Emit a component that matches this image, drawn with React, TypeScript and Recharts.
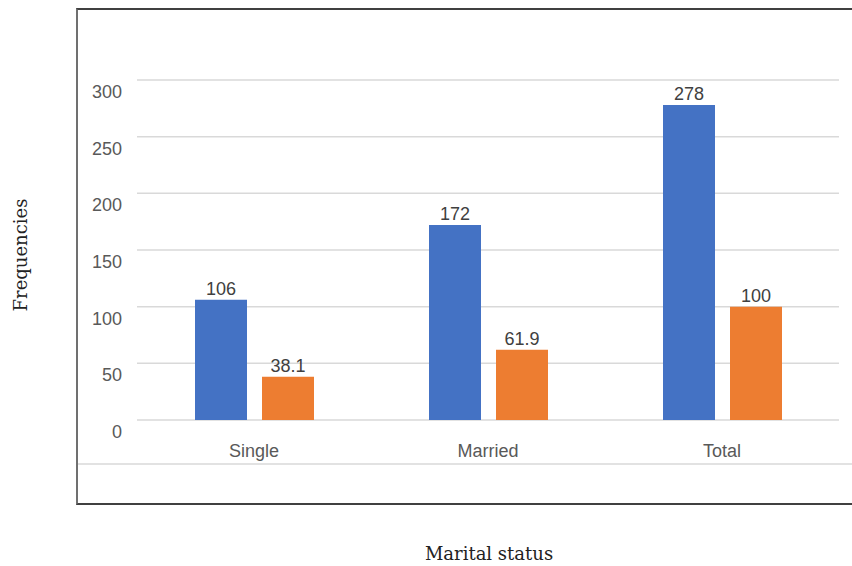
import { BarChart, Bar, XAxis, YAxis, CartesianGrid, LabelList } from 'recharts'

const categories = ['Single', 'Married', 'Total']
const frequencyCounts = [106, 172, 278]
const percentValues = [38.1, 61.9, 100]
const yTicks = [0, 50, 100, 150, 200, 250, 300]

const data = categories.map((name, i) => ({
  name,
  count: frequencyCounts[i],
  percent: percentValues[i],
}))

const SANS = '"Liberation Sans", Arial, sans-serif'
const SERIF = '"DejaVu Serif", serif'

function YTick({ x, y, payload }: any) {
  return (
    <text
      x={x - 13}
      y={y + 12}
      textAnchor="end"
      dominantBaseline="central"
      fontFamily={SANS}
      fontSize={18}
      fill="#595959"
    >
      {payload.value}
    </text>
  )
}

function XTick({ x, y, payload }: any) {
  return (
    <text
      x={x}
      y={y + 23}
      textAnchor="middle"
      dominantBaseline="central"
      fontFamily={SANS}
      fontSize={18}
      fill="#595959"
    >
      {payload.value}
    </text>
  )
}

export default function App() {
  return (
    <div style={{ position: 'fixed', left: 0, top: 0, width: 852, height: 566, background: '#fff' }}>
      {/* outer frame */}
      <div
        style={{
          position: 'absolute',
          left: 76,
          top: 8,
          width: 800,
          height: 493,
          borderLeft: '2px solid #707070',
          borderTop: '2px solid #404040',
          borderBottom: '2px solid #404040',
        }}
      />
      <div
        style={{
          position: 'absolute',
          left: 78,
          top: 463,
          width: 774,
          height: 0,
          borderTop: '2px solid #e2e2e2',
        }}
      />
      <BarChart
        width={852}
        height={566}
        data={data}
        margin={{ top: 80, right: 13, left: 0, bottom: 106 }}
        barSize={52}
        barGap={15}
        style={{ position: 'absolute', left: 0, top: 0 }}
      >
        <CartesianGrid vertical={false} stroke="#d9d9d9" strokeWidth={1.5} />
        <XAxis
          dataKey="name"
          axisLine={false}
          tickLine={false}
          height={40}
          tick={<XTick />}
        />
        <YAxis
          domain={[0, 300]}
          ticks={yTicks}
          width={137}
          axisLine={false}
          tickLine={false}
          tickSize={0}
          tick={<YTick />}
        />
        <Bar dataKey="count" fill="#4472C4" isAnimationActive={false}>
          <LabelList
            dataKey="count"
            position="top"
            offset={5}
            fontFamily={SANS}
            fontSize={18}
            fill="#404040"
          />
        </Bar>
        <Bar dataKey="percent" fill="#ED7D31" isAnimationActive={false}>
          <LabelList
            dataKey="percent"
            position="top"
            offset={5}
            fontFamily={SANS}
            fontSize={18}
            fill="#404040"
          />
        </Bar>
      </BarChart>
      <div
        style={{
          position: 'absolute',
          left: 20,
          top: 255,
          transform: 'translate(-50%, -50%) rotate(-90deg)',
          fontFamily: SERIF,
          fontSize: 18,
          color: '#222',
          whiteSpace: 'nowrap',
        }}
      >
        Frequencies
      </div>
      <div
        style={{
          position: 'absolute',
          left: 489,
          top: 553,
          transform: 'translate(-50%, -50%)',
          fontFamily: SERIF,
          fontSize: 18,
          color: '#222',
          whiteSpace: 'nowrap',
        }}
      >
        Marital status
      </div>
    </div>
  )
}
